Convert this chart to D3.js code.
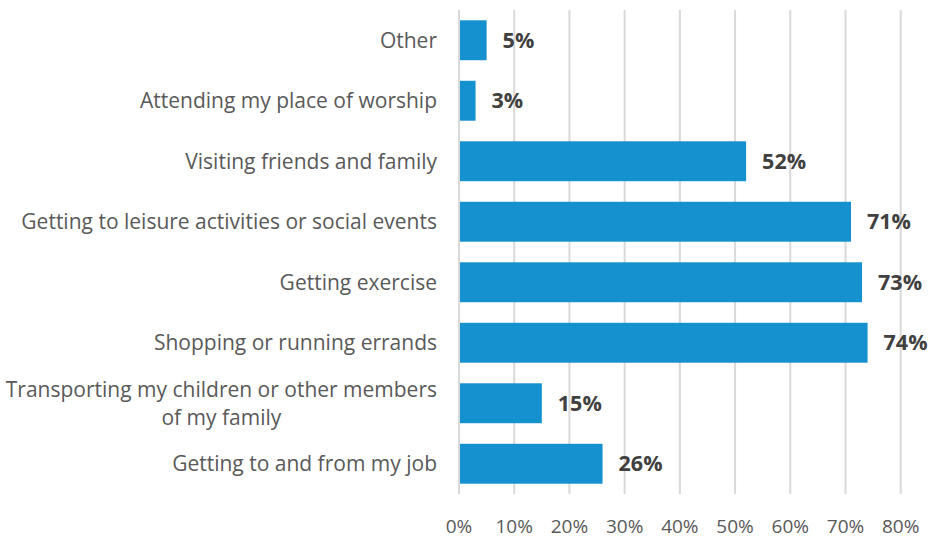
<!DOCTYPE html>
<html><head><meta charset="utf-8">
<script src="https://cdn.jsdelivr.net/npm/d3@7"></script>
<style>body{margin:0;background:#fff}svg{display:block}</style>
</head><body>
<svg id="c" width="932" height="538"></svg>
<script>
const categories = ["Other","Attending my place of worship","Visiting friends and family","Getting to leisure activities or social events","Getting exercise","Shopping or running errands","Transporting my children or other members|of my family","Getting to and from my job"];
const values = [0.05,0.03,0.52,0.71,0.73,0.74,0.15,0.26];
const valueLabels = ["5%","3%","52%","71%","73%","74%","15%","26%"];
const ticks = [0,0.1,0.2,0.3,0.4,0.5,0.6,0.7,0.8];

const svg = d3.select("#c");
const font = "'Open Sans', sans-serif";
const x = d3.scaleLinear().domain([0,0.8]).range([459,900.7]);
const y = d3.scaleBand().domain(categories).range([10,494]).paddingInner(0.34).paddingOuter(0.17);

svg.append("g").selectAll("line").data(ticks).join("line")
  .attr("x1",d=>x(d)).attr("x2",d=>x(d)).attr("y1",10).attr("y2",494)
  .attr("stroke","#d9d9d9").attr("stroke-width",2);

svg.append("g").selectAll("rect").data(categories).join("rect")
  .attr("x",x(0)+1).attr("y",d=>y(d)).attr("height",y.bandwidth())
  .attr("width",(d,i)=>x(values[i])-x(0)-1).attr("fill","#1591D0");

svg.append("g").selectAll("text").data(categories).join("text")
  .attr("x",(d,i)=>x(values[i])+16).attr("y",d=>y(d)+y.bandwidth()/2)
  .attr("dy","0.36em").attr("font-family",font).attr("font-weight","bold")
  .attr("font-size",21.5).attr("fill","#404040").text((d,i)=>valueLabels[i]);

const cl = svg.append("g").selectAll("text").data(categories).join("text")
  .attr("font-family",font).attr("font-size",21).attr("fill","#595959")
  .attr("y",d=>y(d)+y.bandwidth()/2);
cl.each(function(d){
  const parts = d.split("|");
  const t = d3.select(this);
  parts.forEach((p,j)=>{
    t.append("tspan").attr("x",437).attr("text-anchor",j===0?"end":"middle")
     .attr("dy", j===0 ? (0.35*21-(parts.length-1)*14)+"px" : "28px").text(p);
  });
});
cl.each(function(d){
  const parts=d.split("|");
  if(parts.length>1){
    const ts=d3.select(this).selectAll("tspan").nodes();
    const w=ts[0].getComputedTextLength();
    d3.select(ts[1]).attr("x",437-w/2);
  }
});

svg.append("g").selectAll("text").data(ticks).join("text")
  .attr("x",d=>x(d)).attr("y",526).attr("dy","0.35em").attr("text-anchor","middle")
  .attr("font-family",font).attr("font-size",19).attr("fill","#595959")
  .text(d=>d3.format(".0%")(d));
</script>
</body></html>
